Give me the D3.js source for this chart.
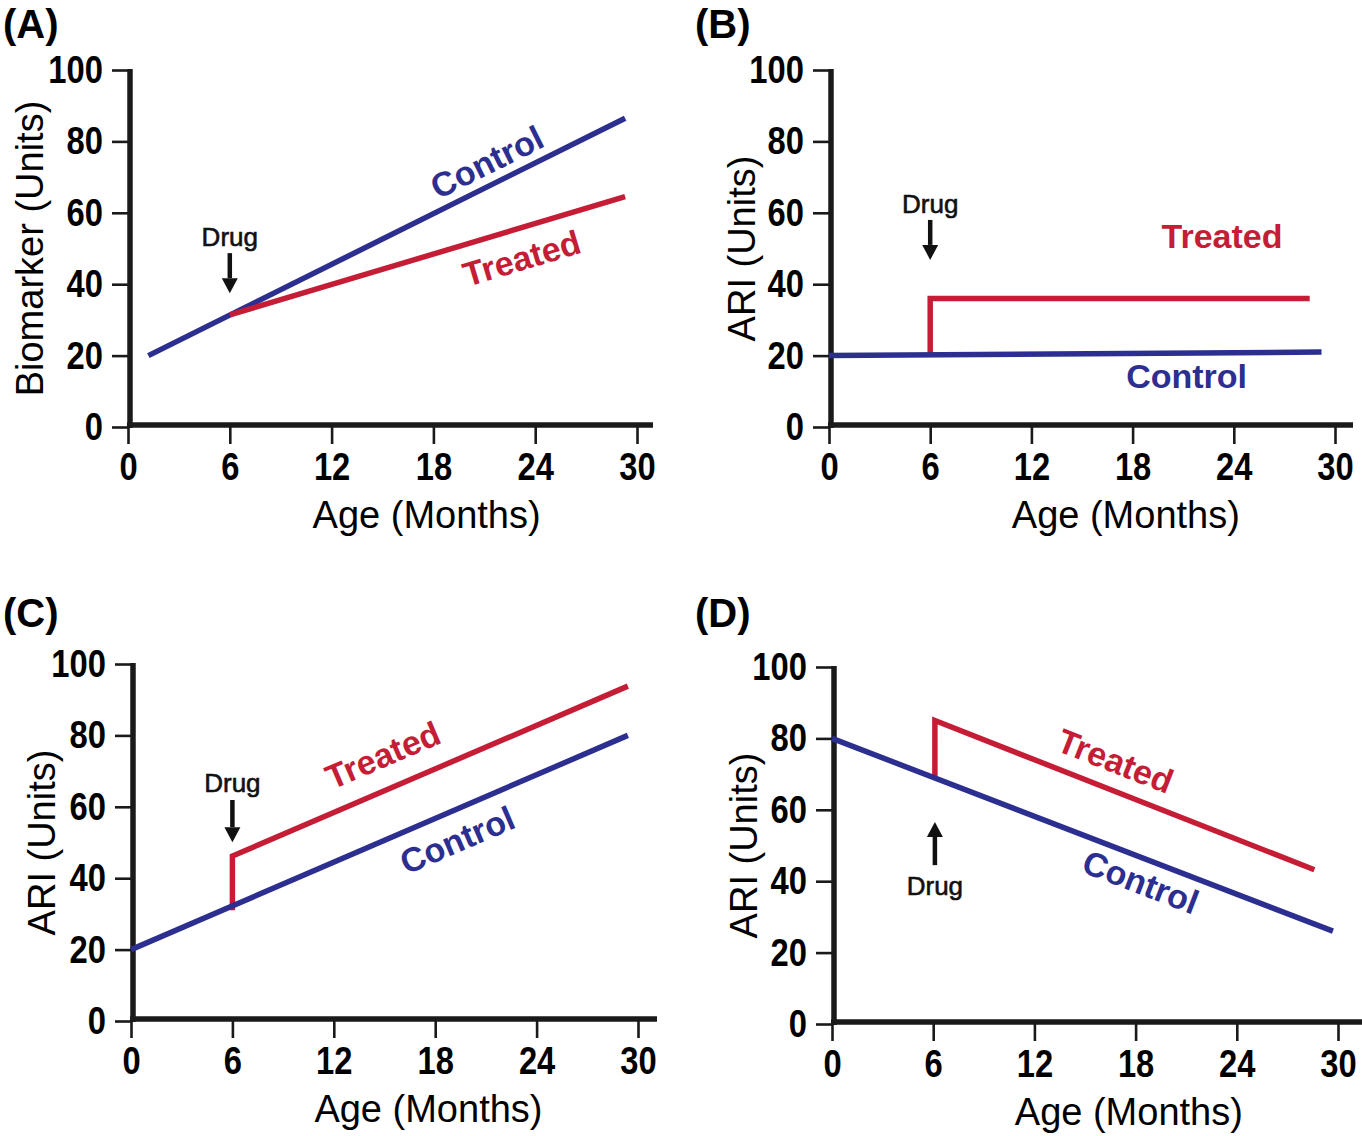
<!DOCTYPE html>
<html>
<head>
<meta charset="utf-8">
<script src="https://cdn.jsdelivr.net/npm/d3@7"></script>
<style>
  html, body { margin: 0; padding: 0; background: #fff; }
  svg { display: block; }
</style>
</head>
<body>
<svg id="chart" width="1362" height="1136"></svg>
<script>
// ---------------- DATA ----------------
const xTicks = [0, 6, 12, 18, 24, 30];
const yTicks = [0, 20, 40, 60, 80, 100];
const panelLabels = ["(A)", "(B)", "(C)", "(D)"];
const yTitles = ["Biomarker (Units)", "ARI (Units)", "ARI (Units)", "ARI (Units)"];
const xTitle = "Age (Months)";
const seriesNames = ["Control", "Treated"];
const drugText = "Drug";

// Panel A
const controlA_months = [1.2, 29.3];
const controlA_values = [20, 86.5];
const treatedA_months = [6, 29.3];
const treatedA_values = [31.4, 64.5];
// Panel B
const controlB_months = [0, 29.2];
const controlB_values = [20, 21];
const treatedB_months = [6, 6, 28.5];
const treatedB_values = [20.5, 36, 36];
// Panel C
const controlC_months = [0, 29.4];
const controlC_values = [20, 80];
const treatedC_months = [6, 6, 29.4];
const treatedC_values = [31, 46.2, 93.8];
// Panel D
const controlD_months = [0, 29.7];
const controlD_values = [80, 26];
const treatedD_months = [6.1, 6.1, 28.6];
const treatedD_values = [69.5, 85, 43.2];

// Drug arrow: month, arrow tail value, arrow tip value, label value
const drugMonths = [6, 6, 6, 6.1];
const drugTail = [48.7, 58, 61.9, 44.5];
const drugTip = [37.5, 46.8, 50.1, 56.6];
const drugLabelValue = [53.2, 62.5, 66.7, 38.7];

// Series label anchors (month, value) per panel
const controlLabelMonth = [21.15, 21.2, 19.3, 18.3];
const controlLabelValue = [74.2, 14.3, 50.7, 39.8];
const treatedLabelMonth = [23.2, 23.3, 14.9, 16.8];
const treatedLabelValue = [47.3, 53.5, 74.5, 73.7];
const labelFollowsLine = [true, false, true, true];

// ---------------- LAYOUT / STYLE ----------------
const RED = "#c51d36";
const BLUE = "#2c2e90";
const INK = "#111";
const NARROW = 0.84;
const layout = [
  { x0: 128, x30: 637, xEnd: 653, yTop: 70, yBot: 427, letterX: 3, letterY: 38, yTitleOff: 85 },
  { x0: 829, x30: 1335, xEnd: 1353, yTop: 70, yBot: 427, letterX: 695, letterY: 38, yTitleOff: 74 },
  { x0: 131, x30: 638, xEnd: 657, yTop: 664, yBot: 1021, letterX: 3, letterY: 627, yTitleOff: 76 },
  { x0: 832, x30: 1338, xEnd: 1362, yTop: 667, yBot: 1024, letterX: 695, letterY: 627, yTitleOff: 75 }
];

const panels = [
  { control: [controlA_months, controlA_values], treated: [treatedA_months, treatedA_values] },
  { control: [controlB_months, controlB_values], treated: [treatedB_months, treatedB_values] },
  { control: [controlC_months, controlC_values], treated: [treatedC_months, treatedC_values] },
  { control: [controlD_months, controlD_values], treated: [treatedD_months, treatedD_values] }
];

const FONT = "'Liberation Sans', Arial, sans-serif";

const svg = d3.select("#chart");

panels.forEach((p, i) => {
  const L = layout[i];
  const x = d3.scaleLinear().domain([0, 30]).range([L.x0, L.x30]);
  const y = d3.scaleLinear().domain([0, 100]).range([L.yBot, L.yTop]);
  const g = svg.append("g");

  // panel letter
  g.append("text").attr("x", L.letterX).attr("y", L.letterY)
    .attr("font-family", FONT).attr("font-weight", 700).attr("font-size", 40)
    .attr("fill", "#000").text(panelLabels[i]);

  // y axis
  const yAxis = d3.axisLeft(y).tickValues(yTicks).tickSize(16).tickSizeOuter(0).tickPadding(9);
  const yg = g.append("g").attr("transform", `translate(${L.x0},0)`).call(yAxis);
  yg.select(".domain").remove();
  yg.selectAll(".tick line").attr("stroke", "#1a1a1a").attr("stroke-width", 2.6);
  yg.selectAll(".tick text").attr("font-family", FONT).attr("font-weight", 700)
    .attr("font-size", 39).attr("fill", "#000")
    .attr("x", -25 / NARROW).attr("transform", `scale(${NARROW},1)`);

  // x axis
  const xAxis = d3.axisBottom(x).tickValues(xTicks).tickSize(17).tickSizeOuter(0).tickPadding(8);
  const xg = g.append("g").attr("transform", `translate(0,${L.yBot})`).call(xAxis);
  xg.select(".domain").remove();
  xg.selectAll(".tick line").attr("stroke", "#1a1a1a").attr("stroke-width", 2.6);
  xg.selectAll(".tick text").attr("font-family", FONT).attr("font-weight", 700)
    .attr("font-size", 39).attr("fill", "#000")
    .attr("transform", `scale(${NARROW},1)`);

  // thick axis lines
  g.append("line").attr("x1", L.x0 + 2).attr("x2", L.x0 + 2)
    .attr("y1", L.yTop - 1).attr("y2", L.yBot + 1)
    .attr("stroke", "#1a1a1a").attr("stroke-width", 5.5);
  g.append("line").attr("x1", L.x0 - 1).attr("x2", L.xEnd)
    .attr("y1", L.yBot - 2).attr("y2", L.yBot - 2)
    .attr("stroke", "#1a1a1a").attr("stroke-width", 5.5);

  // axis titles
  g.append("text")
    .attr("transform", `translate(${L.x0 - L.yTitleOff},${(L.yTop + L.yBot) / 2}) rotate(-90)`)
    .attr("text-anchor", "middle").attr("font-family", FONT).attr("font-size", 38)
    .attr("fill", "#000").text(yTitles[i]);
  g.append("text")
    .attr("x", x(17.6)).attr("y", L.yBot + 101)
    .attr("text-anchor", "middle").attr("font-family", FONT).attr("font-size", 38)
    .attr("fill", "#000").text(xTitle);

  // series lines
  const line = d3.line().x(d => x(d[0])).y(d => y(d[1]));
  const toPts = (s) => s[0].map((m, k) => [m, s[1][k]]);
  const ctrl = toPts(p.control), trt = toPts(p.treated);
  const drawOrder = (i === 0) ? [[ctrl, BLUE], [trt, RED]] : [[trt, RED], [ctrl, BLUE]];
  drawOrder.forEach(([pts, col]) => {
    g.append("path").datum(pts).attr("d", line)
      .attr("fill", "none").attr("stroke", col).attr("stroke-width", 5.5)
      .attr("stroke-linejoin", "miter").attr("stroke-linecap", "butt");
  });

  // series labels
  const angleOf = (pts) => {
    const a = pts[pts.length - 2], b = pts[pts.length - 1];
    return Math.atan2(y(b[1]) - y(a[1]), x(b[0]) - x(a[0])) * 180 / Math.PI;
  };
  const labels = [
    [seriesNames[0], controlLabelMonth[i], controlLabelValue[i], BLUE, ctrl],
    [seriesNames[1], treatedLabelMonth[i], treatedLabelValue[i], RED, trt]
  ];
  labels.forEach(([txt, m, v, col, pts]) => {
    const ang = labelFollowsLine[i] ? angleOf(pts) : 0;
    g.append("text")
      .attr("transform", `translate(${x(m)},${y(v)}) rotate(${ang})`)
      .attr("text-anchor", "middle").attr("dominant-baseline", "central")
      .attr("font-family", FONT).attr("font-weight", 700).attr("font-size", 34)
      .attr("fill", col).text(txt);
  });

  // drug arrow
  const ax = x(drugMonths[i]);
  const yTail = y(drugTail[i]), yTip = y(drugTip[i]);
  const dir = yTip > yTail ? 1 : -1;
  const headLen = 15, headHalf = 8;
  g.append("line").attr("x1", ax).attr("x2", ax)
    .attr("y1", yTail).attr("y2", yTip - dir * headLen)
    .attr("stroke", INK).attr("stroke-width", 4.5);
  g.append("path")
    .attr("d", `M${ax - headHalf},${yTip - dir * headLen} L${ax + headHalf},${yTip - dir * headLen} L${ax},${yTip} Z`)
    .attr("fill", INK);
  g.append("text")
    .attr("x", ax).attr("y", y(drugLabelValue[i]))
    .attr("text-anchor", "middle").attr("dominant-baseline", "central")
    .attr("font-family", FONT).attr("font-size", 26).attr("fill", INK)
    .attr("stroke", INK).attr("stroke-width", 0.6)
    .text(drugText);
});
</script>
</body>
</html>
